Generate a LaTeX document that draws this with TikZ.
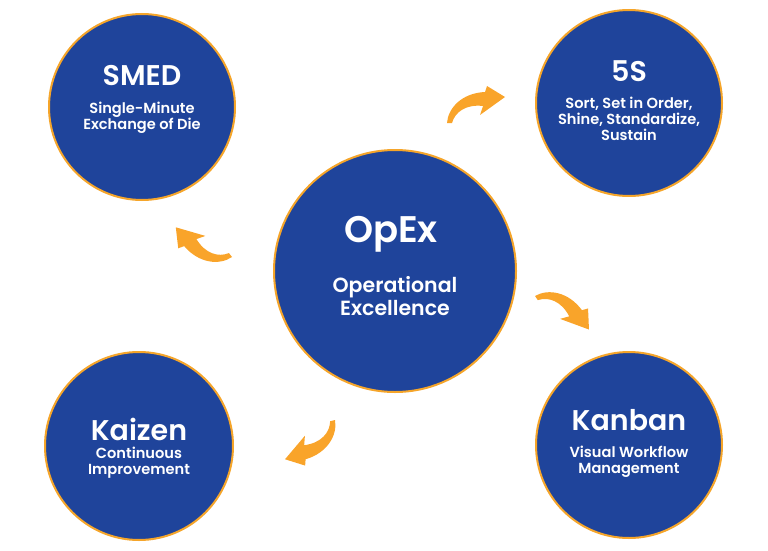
\documentclass[tikz,border=0pt]{standalone}
\usepackage{fontspec}
\setmainfont{Poppins}[BoldFont={Poppins SemiBold}]
\definecolor{opblue}{HTML}{1F449B}
\definecolor{oporange}{HTML}{F5A52A}
\definecolor{arrorange}{HTML}{F9A42A}
\begin{document}
\begin{tikzpicture}[x=1pt,y=-1pt,
  hub/.style={circle, fill=opblue, draw=oporange, line width=2pt, minimum size=#1, inner sep=0pt},
  ttl/.style={text=white, font=\bfseries\fontsize{28.5}{30}\selectfont, inner sep=0pt},
  bigttl/.style={text=white, font=\bfseries\fontsize{37}{40}\selectfont, inner sep=0pt},
  sub/.style={text=white, font=\bfseries\fontsize{14.6}{16}\selectfont, align=center, inner sep=0pt},
  bigsub/.style={text=white, font=\bfseries\fontsize{20.5}{23}\selectfont, align=center, inner sep=0pt},
  curvearrow/.pic={\fill[arrorange] (0,0) .. controls (1,-15) and (15,-30) .. (38,-31) -- (40,-37) -- (58,-26) -- (33,-8) -- (36,-17) .. controls (19,-19) and (8,-11) .. (5,0) -- cycle;}
  ]
\useasboundingbox (0,0) rectangle (768,551);
% circles
\node[hub=186pt] (smed) at (142,107) {};
\node[hub=186pt] (fives) at (629,103) {};
\node[hub=242pt] (opex) at (395,271) {};
\node[hub=188pt] (kaizen) at (139,446) {};
\node[hub=186pt] (kanban) at (629,445) {};
% texts
\node[ttl] (smedT) at (142,76) {SMED};
\node[sub] (smedS) at (142,118) {Single-Minute\\Exchange of Die};
\node[ttl] (fivesT) at (629,71) {5S};
\node[sub] (fivesS) at (629,119) {Sort, Set in Order,\\Shine, Standardize,\\Sustain};
\node[bigttl] (opexT) at (391,234) {OpEx};
\node[bigsub] (opexS) at (395,296) {Operational\\Excellence};
\node[ttl] (kaizenT) at (139,429) {Kaizen};
\node[sub] (kaizenS) at (139,462.5) {Continuous\\Improvement};
\node[ttl] (kanbanT) at (629,420) {Kanban};
\node[sub] (kanbanS) at (629,462) {Visual Workflow\\Management};
% arrows
\pic (arA) at (447,123) {curvearrow};
\pic[rotate=128] (arB) at (232,257) {curvearrow};
\pic[rotate=-56] (arC) at (535,296) {curvearrow};
\pic[rotate=-166] (arD) at (335,420) {curvearrow};
\end{tikzpicture}
\end{document}
